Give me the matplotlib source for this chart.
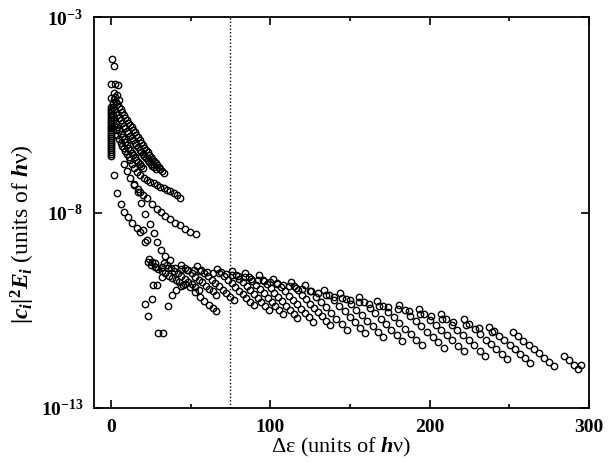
import matplotlib
matplotlib.use("Agg")
import matplotlib.pyplot as plt
from matplotlib.ticker import FixedLocator, NullLocator

plt.rcParams["font.family"] = ["Liberation Serif", "DejaVu Serif"]
plt.rcParams["font.weight"] = "bold"
plt.rcParams["mathtext.fontset"] = "custom"
plt.rcParams["mathtext.rm"] = "Liberation Serif:bold"
plt.rcParams["mathtext.it"] = "Liberation Serif:italic:bold"
plt.rcParams["mathtext.bf"] = "Liberation Serif:bold"
plt.rcParams["mathtext.default"] = "it"

# values are log10 of |c_i|^2 E_i

# column of states at zero detuning
col_y = [-5.30, -5.35, -5.40, -5.45, -5.50, -5.55, -5.60, -5.65, -5.70, -5.75,
         -5.80, -5.85, -5.90, -5.95, -6.00, -6.05, -6.10, -6.15, -6.20, -6.25,
         -6.30, -6.35, -6.40, -6.45, -6.50, -6.55]
col_x = [0.0] * len(col_y)

# isolated points at the top
top_x = [0.6, 2.1, 0.0, 2.7, 4.2, 1.6, 3.8, 0.0, 2.6, 5.2, 1.2]
top_y = [-4.06, -4.25, -4.70, -4.72, -4.74, -4.95, -5.00, -5.08, -5.05, -5.12, -5.20]

# upper curves
a_x = [2, 3, 4, 5, 6, 7, 8, 9, 10, 11, 12, 13, 14, 15, 16, 17, 18, 19, 20, 21,
       22, 23, 24, 25, 26, 27, 28, 29, 30, 31, 32, 33]
a_y = [-5.10, -5.16, -5.22, -5.29, -5.36, -5.43, -5.50, -5.57, -5.64, -5.70,
       -5.76, -5.82, -5.88, -5.95, -6.01, -6.08, -6.15, -6.21, -6.28, -6.34,
       -6.40, -6.46, -6.52, -6.58, -6.63, -6.68, -6.73, -6.78, -6.83, -6.88,
       -6.93, -6.98]

a2_x = [1, 2, 3, 4, 5, 6, 7, 8, 9, 10, 11, 12, 13, 14, 15, 16, 17, 18, 19, 20,
        21, 22, 23, 24, 25, 26, 27, 28]
a2_y = [-5.30, -5.36, -5.43, -5.50, -5.57, -5.64, -5.71, -5.78, -5.85, -5.91,
        -5.97, -6.03, -6.09, -6.15, -6.21, -6.27, -6.33, -6.39, -6.45, -6.51,
        -6.56, -6.61, -6.66, -6.71, -6.76, -6.80, -6.84, -6.88]

a3_x = [1, 2, 3, 4, 5, 6, 7, 8, 9, 10, 11, 12, 13, 14, 15, 16, 17, 18, 19, 20]
a3_y = [-5.50, -5.60, -5.70, -5.80, -5.90, -5.98, -6.06, -6.13, -6.20, -6.27,
        -6.34, -6.41, -6.47, -6.53, -6.59, -6.65, -6.71, -6.77, -6.82, -6.87]

b_x = [2, 3, 4, 5, 6, 7, 8, 9, 10, 11.1, 12.1, 13.2, 14.2, 16.3, 18.4, 20.5,
       22.6, 24.7, 26.8, 28.9, 31.0, 33.0, 35.1, 37.2, 39.3, 41.4, 43.5]
b_y = [-5.75, -5.90, -6.02, -6.12, -6.21, -6.29, -6.36, -6.43, -6.50, -6.57,
       -6.66, -6.76, -6.87, -6.96, -7.04, -7.11, -7.17, -7.21, -7.25, -7.30,
       -7.34, -7.38, -7.42, -7.46, -7.51, -7.56, -7.62]

c_x = [8, 10, 12, 14.5, 16.9, 18.5, 20.1, 22.6, 25.7, 28.9, 31.4, 34.1, 37.2,
       40.4, 43.5, 46.6, 49.8, 53.6]
c_y = [-6.75, -6.95, -7.12, -7.28, -7.40, -7.48, -7.55, -7.64, -7.78, -7.90,
       -7.99, -8.08, -8.16, -8.26, -8.33, -8.42, -8.49, -8.56]

d_x = [2.1, 3.8, 6.3, 8.3, 10.4, 13.2, 16.3, 18.4, 20.1, 21.5, 22.9, 23.6, 25.7, 27.4]
d_y = [-7.04, -7.51, -7.78, -7.98, -8.12, -8.26, -8.40, -8.49, -8.45, -8.75,
       -8.70, -9.19, -9.26, -9.30]

e_x = [14.2, 16.9, 18.8, 21.5, 24.2, 26.8, 28.9, 31.6, 34.1, 37.2]
e_y = [-7.30, -7.47, -7.75, -8.04, -8.29, -8.53, -8.75, -8.96, -9.11, -9.22]

# stray points below the band
low_x = [21.1, 23.2, 25.7, 26.1, 28.9, 32.0, 29.5, 32.6]
low_y = [-10.34, -10.65, -10.22, -9.85, -9.85, -9.64, -11.09, -11.09]

# branch that rises to the band then falls off
br_x = [35.5, 38.3, 41.0, 43.9, 46.6, 49.8, 52.9, 55.6, 58.6, 61.3, 63.8, 66.1]
br_y = [-10.39, -10.11, -9.98, -9.88, -9.83, -9.91, -10.03, -10.15, -10.26,
        -10.37, -10.45, -10.52]

# upper row of the band
row_x = [28, 32, 36, 40, 44, 48, 52, 56, 60, 64, 68, 72, 76, 80, 84, 88, 92, 96,
         100, 104, 108, 112, 116, 120, 125, 130, 135, 140, 145, 150, 156, 162,
         168, 174, 180, 187, 194, 201, 208, 215, 223, 231, 239]
row_y = [-9.39, -9.40, -9.41, -9.42, -9.44, -9.46, -9.48, -9.50, -9.52, -9.54,
         -9.56, -9.58, -9.60, -9.62, -9.65, -9.69, -9.72, -9.75, -9.79, -9.82,
         -9.86, -9.89, -9.93, -9.96, -10.01, -10.06, -10.10, -10.15, -10.19,
         -10.24, -10.29, -10.33, -10.38, -10.42, -10.47, -10.53, -10.59, -10.65,
         -10.72, -10.79, -10.87, -10.96, -11.06]

# sawtooth teeth of the main band
t1_x = [23.0, 25.2, 27.4, 29.6, 31.8, 34.0, 36.2, 38.4, 40.6, 42.8, 45.0]
t1_y = [-9.27, -9.33, -9.39, -9.44, -9.50, -9.56, -9.62, -9.68, -9.73, -9.79, -9.85]
t2_x = [33.0, 35.2, 37.4, 39.6, 41.8, 44.0, 46.2, 48.4, 50.6, 52.8, 55.0]
t2_y = [-9.28, -9.35, -9.42, -9.49, -9.56, -9.63, -9.70, -9.77, -9.84, -9.91, -9.98]
t3_x = [44.0, 46.2, 48.4, 50.6, 52.8, 55.0, 57.2, 59.4, 61.6, 63.8, 66.0]
t3_y = [-9.33, -9.41, -9.48, -9.56, -9.64, -9.72, -9.79, -9.87, -9.95, -10.02, -10.10]
t4_x = [54.0, 56.3, 58.6, 60.9, 63.2, 65.5, 67.8, 70.1, 72.4, 74.7, 77.0]
t4_y = [-9.37, -9.46, -9.54, -9.63, -9.72, -9.81, -9.89, -9.98, -10.07, -10.15, -10.24]
t5_x = [66.5, 68.8, 71.1, 73.4, 75.7, 78.0, 80.3, 82.6, 84.9, 87.2, 89.5]
t5_y = [-9.44, -9.53, -9.63, -9.72, -9.81, -9.91, -10.00, -10.09, -10.18, -10.28, -10.37]
t6_x = [76.0, 78.3, 80.6, 82.9, 85.2, 87.5, 89.8, 92.1, 94.4, 96.7, 99.0]
t6_y = [-9.49, -9.59, -9.69, -9.79, -9.89, -9.99, -10.09, -10.19, -10.29, -10.39, -10.49]
t7_x = [84.0, 86.4, 88.8, 91.2, 93.6, 96.0, 98.4, 100.8, 103.2, 105.6, 108.0]
t7_y = [-9.54, -9.65, -9.75, -9.86, -9.96, -10.07, -10.18, -10.28, -10.39, -10.49, -10.60]
t8_x = [93.0, 95.4, 97.8, 100.2, 102.6, 105.0, 107.4, 109.8, 112.2, 114.6, 117.0]
t8_y = [-9.61, -9.72, -9.83, -9.94, -10.05, -10.16, -10.27, -10.38, -10.49, -10.60, -10.71]
t9_x = [102.0, 104.5, 107.0, 109.5, 112.0, 114.5, 117.0, 119.5, 122.0, 124.5, 127.0]
t9_y = [-9.69, -9.80, -9.91, -10.02, -10.13, -10.24, -10.35, -10.46, -10.57, -10.68, -10.79]
t10_x = [112.7, 115.2, 117.7, 120.2, 122.7, 125.2, 127.7, 130.2, 132.7, 135.2, 137.7]
t10_y = [-9.77, -9.88, -9.99, -10.10, -10.21, -10.33, -10.44, -10.55, -10.66, -10.77, -10.88]
t11_x = [122.0, 125.3, 128.5, 131.8, 135.0, 138.3, 141.5, 144.8, 148.0]
t11_y = [-9.86, -10.00, -10.15, -10.29, -10.43, -10.57, -10.72, -10.86, -11.00]
t12_x = [133.6, 136.9, 140.1, 143.4, 146.6, 149.9, 153.1, 156.4, 159.6]
t12_y = [-9.97, -10.11, -10.25, -10.39, -10.53, -10.67, -10.81, -10.95, -11.09]
t13_x = [144.0, 147.4, 150.8, 154.1, 157.5, 160.9, 164.3, 167.6, 171.0]
t13_y = [-10.07, -10.21, -10.35, -10.49, -10.63, -10.77, -10.91, -11.05, -11.19]
t14_x = [155.7, 159.1, 162.5, 165.8, 169.2, 172.6, 176.0, 179.3, 182.7]
t14_y = [-10.16, -10.30, -10.44, -10.58, -10.72, -10.86, -11.00, -11.14, -11.28]
t15_x = [167.0, 170.5, 174.1, 177.6, 181.1, 184.6, 188.2, 191.7, 195.2]
t15_y = [-10.26, -10.40, -10.54, -10.68, -10.83, -10.97, -11.11, -11.25, -11.39]
t16_x = [181.0, 184.5, 188.0, 191.4, 194.9, 198.4, 201.9, 205.3, 208.8]
t16_y = [-10.36, -10.50, -10.64, -10.77, -10.91, -11.05, -11.19, -11.32, -11.46]
t17_x = [193.3, 196.8, 200.3, 203.8, 207.3, 210.8, 214.3, 217.8, 221.3]
t17_y = [-10.47, -10.60, -10.74, -10.87, -11.01, -11.14, -11.27, -11.41, -11.54]
t18_x = [207.0, 210.5, 214.0, 217.5, 221.0, 224.5, 228.0, 231.5, 235.0]
t18_y = [-10.60, -10.73, -10.87, -11.00, -11.14, -11.27, -11.40, -11.54, -11.67]
t19_x = [221.6, 225.0, 228.4, 231.7, 235.1, 238.5, 241.9, 245.2, 248.6]
t19_y = [-10.73, -10.86, -10.99, -11.12, -11.25, -11.37, -11.50, -11.63, -11.76]
t20_x = [237.2, 240.5, 243.7, 247.0, 250.2, 253.5, 256.7, 260.0, 263.2]
t20_y = [-10.92, -11.04, -11.15, -11.27, -11.38, -11.50, -11.61, -11.73, -11.84]
t21_x = [252.3, 255.6, 258.8, 262.1, 265.3, 268.6, 271.8, 275.1, 278.3]
t21_y = [-11.06, -11.17, -11.28, -11.39, -11.50, -11.60, -11.71, -11.82, -11.93]
t22_x = [284.5, 287.5, 290.4, 293.4, 295.0]
t22_y = [-11.67, -11.78, -11.90, -12.01, -11.90]

series = [
    (col_x, col_y), (top_x, top_y), (a_x, a_y), (a2_x, a2_y), (a3_x, a3_y),
    (b_x, b_y), (c_x, c_y), (d_x, d_y), (e_x, e_y), (low_x, low_y), (br_x, br_y),
    (row_x, row_y),
    (t1_x, t1_y), (t2_x, t2_y), (t3_x, t3_y), (t4_x, t4_y), (t5_x, t5_y),
    (t6_x, t6_y), (t7_x, t7_y), (t8_x, t8_y), (t9_x, t9_y), (t10_x, t10_y),
    (t11_x, t11_y), (t12_x, t12_y), (t13_x, t13_y), (t14_x, t14_y),
    (t15_x, t15_y), (t16_x, t16_y), (t17_x, t17_y), (t18_x, t18_y),
    (t19_x, t19_y), (t20_x, t20_y), (t21_x, t21_y), (t22_x, t22_y),
]

y_ticks = [1e-13, 1e-8, 1e-3]
y_tick_labels = [r"$\mathrm{10^{-13}}$", r"$\mathrm{10^{-8}}$", r"$\mathrm{10^{-3}}$"]
x_ticks = [0, 100, 200, 300]

fig = plt.figure(figsize=(6.16, 4.62), dpi=100)
ax = fig.add_axes([0.153, 0.117, 0.803, 0.846])

for xs, ys in series:
    ax.plot(xs, [10.0 ** v for v in ys], ls="none", marker="o", ms=4.6,
            mfc="none", mec="black", mew=1.0)

ax.axvline(75, color="black", ls=(0, (1, 1.5)), lw=1.0)

ax.set_yscale("log")
ax.set_xlim(-10.5, 300)
ax.set_ylim(1e-13, 1e-3)
ax.yaxis.set_major_locator(FixedLocator(y_ticks))
ax.set_yticklabels(y_tick_labels)
ax.yaxis.set_minor_locator(NullLocator())
ax.xaxis.set_major_locator(FixedLocator(x_ticks))
ax.xaxis.set_minor_locator(FixedLocator([50, 150, 250]))

ax.tick_params(which="both", direction="in", top=True, right=True, width=1.2)
ax.tick_params(which="major", length=6, labelsize=14, pad=8)
ax.tick_params(which="minor", length=3)
for s in ax.spines.values():
    s.set_linewidth(1.3)

ax.set_xlabel(r"Δε (units of $h$ν)", fontsize=16, labelpad=0)
ax.set_ylabel(r"$|c_i|^2E_i$ (units of $h$ν)", fontsize=17)
ax.yaxis.set_label_coords(-0.115, 0.445)

plt.savefig("out.png", dpi=100)
plt.close()
